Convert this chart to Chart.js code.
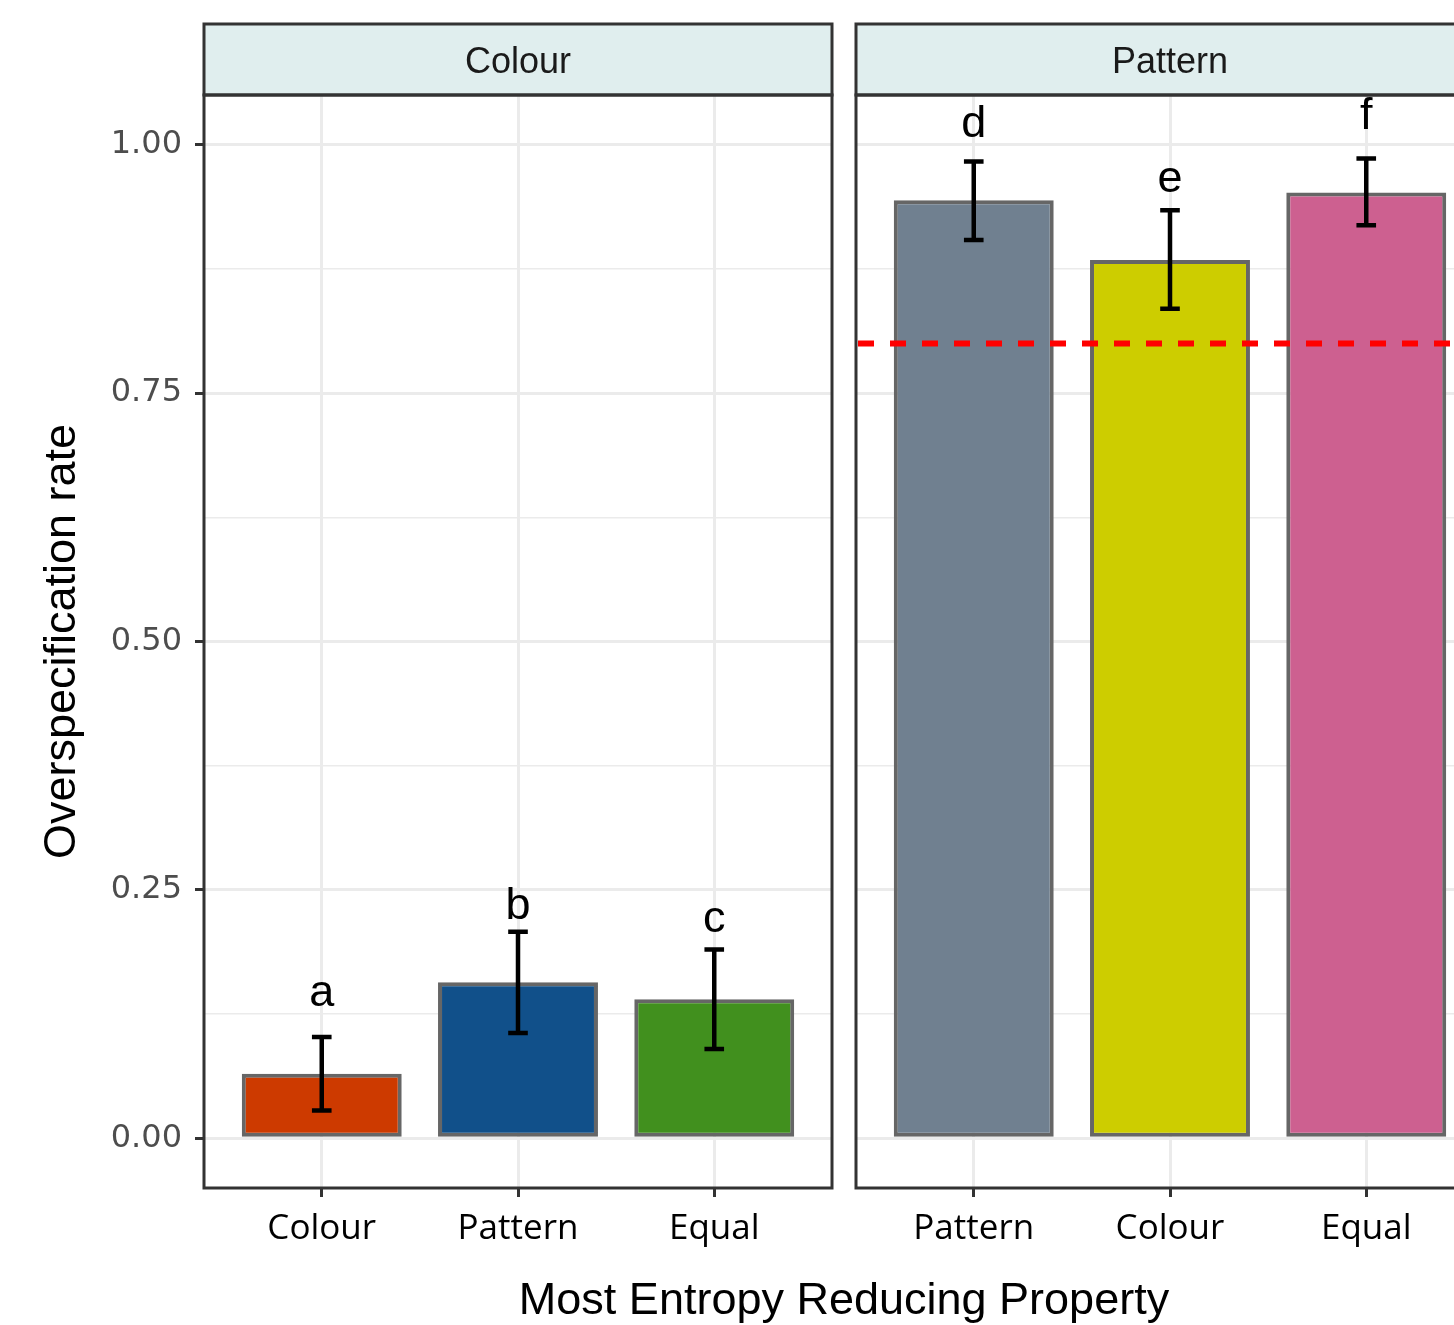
<!DOCTYPE html>
<html>
<head>
    <title>Overspecification rate</title>
    <meta charset="UTF-8">
    <script src="https://cdn.jsdelivr.net/npm/chart.js"></script>
    <style>
        html, body { margin: 0; padding: 0; overflow: hidden; background: #fff; }
        #wrap { position: relative; width: 1454px; height: 1325px; overflow: hidden; }
        #leftChart { position: absolute; left: 0; top: 0; }
        #rightChart { position: absolute; left: 844px; top: 0; }
        #xTitle {
            position: absolute; left: 344px; width: 1000px; top: 1273px; height: 45px;
            line-height: 45px; text-align: center; font: 45px "Liberation Sans", Arial, sans-serif; color: #000;
        }
    </style>
</head>
<body>
<div id="wrap">
    <canvas id="leftChart" width="844" height="1325"></canvas>
    <canvas id="rightChart" width="640" height="1325"></canvas>
    <div id="xTitle">Most Entropy Reducing Property</div>
</div>

<script>
    // panel strips
    const panelTitles = ['Colour', 'Pattern'];

    // left panel (Colour)
    const leftCategories = ['Colour', 'Pattern', 'Equal'];
    const leftMeans = [0.065, 0.157, 0.140];
    const leftLower = [0.028, 0.106, 0.090];
    const leftUpper = [0.102, 0.208, 0.190];
    const leftLetters = ['a', 'b', 'c'];
    const leftColors = ['#CD3A00', '#11508A', '#41901E'];

    // right panel (Pattern)
    const rightCategories = ['Pattern', 'Colour', 'Equal'];
    const rightMeans = [0.944, 0.884, 0.952];
    const rightLower = [0.904, 0.835, 0.919];
    const rightUpper = [0.983, 0.934, 0.986];
    const rightLetters = ['d', 'e', 'f'];
    const rightColors = ['#708090', '#CDCD00', '#CD6090'];

    const yTicks = [0, 0.125, 0.25, 0.375, 0.5, 0.625, 0.75, 0.875, 1];
    const refLine = 0.8;
    const letterOffset = 0.08;

    const isMajor = v => Math.abs(v * 4 - Math.round(v * 4)) < 1e-6;

    function makePanelPlugin(title, cats, lower, upper, means, letters, ref) {
        return {
            id: 'panel',
            afterDatasetsDraw(chart) {
                const { ctx, chartArea: a, scales: { x, y } } = chart;
                ctx.save();
                ctx.beginPath();
                ctx.rect(a.left, a.top, a.right - a.left, a.bottom - a.top);
                ctx.clip();

                // error bars
                ctx.strokeStyle = '#000';
                ctx.lineWidth = 4.5;
                lower.forEach((lo, i) => {
                    const xc = x.getPixelForValue(i + 1);
                    const hw = x.getPixelForValue(i + 1.05) - xc;
                    const yl = y.getPixelForValue(lo);
                    const yu = y.getPixelForValue(upper[i]);
                    ctx.beginPath();
                    ctx.moveTo(xc, yl); ctx.lineTo(xc, yu);
                    ctx.moveTo(xc - hw, yl); ctx.lineTo(xc + hw, yl);
                    ctx.moveTo(xc - hw, yu); ctx.lineTo(xc + hw, yu);
                    ctx.stroke();
                });

                // reference line
                if (ref !== null) {
                    const yr = y.getPixelForValue(ref);
                    ctx.strokeStyle = '#FF0000';
                    ctx.lineWidth = 6;
                    ctx.setLineDash([16, 16]);
                    ctx.beginPath();
                    ctx.moveTo(a.left + 2, yr);
                    ctx.lineTo(a.right, yr);
                    ctx.stroke();
                    ctx.setLineDash([]);
                }

                // letters, centred on their own glyph box
                ctx.fillStyle = '#000';
                ctx.font = '45px "Liberation Sans", Arial, sans-serif';
                ctx.textAlign = 'center';
                ctx.textBaseline = 'alphabetic';
                letters.forEach((l, i) => {
                    const m = ctx.measureText(l);
                    const py = y.getPixelForValue(means[i] + letterOffset);
                    const by = py + (m.actualBoundingBoxAscent - m.actualBoundingBoxDescent) / 2;
                    ctx.fillText(l, x.getPixelForValue(i + 1), by);
                });
                ctx.restore();
            },
            afterDraw(chart) {
                const { ctx, chartArea: a } = chart;
                ctx.save();
                // strip
                ctx.fillStyle = '#E0EEEE';
                ctx.fillRect(a.left, 24, a.right - a.left, a.top - 24);
                ctx.strokeStyle = '#333333';
                ctx.lineWidth = 3;
                ctx.strokeRect(a.left, 24, a.right - a.left, a.top - 24);
                ctx.fillStyle = '#1A1A1A';
                ctx.font = '36px "Liberation Sans", Arial, sans-serif';
                ctx.textAlign = 'center';
                ctx.textBaseline = 'middle';
                ctx.fillText(title, (a.left + a.right) / 2, (24 + a.top) / 2 + 4);
                // panel border
                ctx.strokeRect(a.left, a.top, a.right - a.left, a.bottom - a.top);
                ctx.restore();
            }
        };
    }

    function makeChart(id, title, cats, means, lower, upper, letters, colors, ref, showY) {
        const ctx = document.getElementById(id).getContext('2d');
        return new Chart(ctx, {
            type: 'bar',
            data: {
                datasets: [{
                    data: means.map((m, i) => ({ x: i + 1, y: m })),
                    backgroundColor: colors,
                    borderColor: '#666666',
                    borderWidth: 4,
                    borderSkipped: false,
                    barPercentage: 0.815,
                    categoryPercentage: 1.0
                }]
            },
            options: {
                responsive: false,
                animation: false,
                layout: { padding: { top: 95, bottom: 0, left: showY ? 0 : 12, right: showY ? 12 : 0 } },
                plugins: { legend: { display: false }, tooltip: { enabled: false } },
                scales: {
                    x: {
                        type: 'linear',
                        min: 0.4,
                        max: 3.6,
                        offset: false,
                        afterBuildTicks: s => { s.ticks = cats.map((c, i) => ({ value: i + 1 })); },
                        afterFit: s => { s.height = 137; },
                        border: { display: false },
                        grid: { offset: false, color: '#EBEBEB', lineWidth: 3, tickColor: '#333333', tickWidth: 3, tickLength: 9 },
                        ticks: {
                            callback: v => cats[Math.round(v) - 1],
                            autoSkip: false,
                            maxRotation: 0,
                            padding: 11,
                            color: '#000',
                            font: { family: '"Open Sans", sans-serif', size: 35 }
                        }
                    },
                    y: {
                        min: -0.05,
                        max: 1.05,
                        afterBuildTicks: s => { s.ticks = yTicks.map(v => ({ value: v })); },
                        afterFit: s => { s.width = showY ? 204 : 0; },
                        border: { display: false },
                        grid: {
                            color: '#EBEBEB',
                            lineWidth: c => isMajor(c.tick.value) ? 3 : 1.5,
                            drawTicks: showY,
                            tickLength: 9,
                            tickWidth: 3,
                            tickColor: c => isMajor(c.tick.value) ? '#333333' : 'rgba(0,0,0,0)'
                        },
                        ticks: {
                            display: showY,
                            autoSkip: false,
                            padding: 13,
                            color: '#4D4D4D',
                            font: { family: '"DejaVu Sans", sans-serif', size: 32 },
                            callback: v => isMajor(v) ? v.toFixed(2) : ''
                        },
                        title: {
                            display: showY,
                            text: 'Overspecification rate',
                            color: '#000',
                            font: { family: '"Liberation Sans", Arial, sans-serif', size: 45, lineHeight: 1 },
                            padding: { top: 40, bottom: 0 }
                        }
                    }
                }
            },
            plugins: [makePanelPlugin(title, cats, lower, upper, means, letters, ref)]
        });
    }

    makeChart('leftChart', panelTitles[0], leftCategories, leftMeans, leftLower, leftUpper, leftLetters, leftColors, null, true);
    makeChart('rightChart', panelTitles[1], rightCategories, rightMeans, rightLower, rightUpper, rightLetters, rightColors, refLine, false);
</script>
</body>
</html>
